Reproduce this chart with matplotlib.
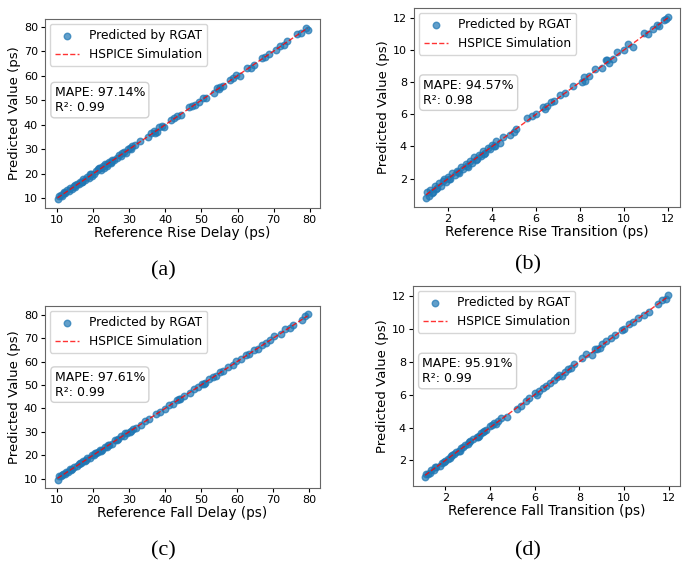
import matplotlib
matplotlib.use("Agg")
import matplotlib.pyplot as plt

# --- data (ps) ---
rise_delay_ref = [10.1, 10.5, 11.0, 11.4, 11.9, 12.3, 12.8, 13.2, 13.7, 14.1, 14.6, 15.0, 15.5, 16.0,
                  16.4, 16.9, 17.3, 17.8, 18.2, 18.7, 19.1, 19.6, 20.2, 20.8, 21.3, 21.8, 22.2, 22.6,
                  23.0, 23.4, 23.9, 24.3, 24.8, 25.3, 25.9, 26.6, 27.2, 27.8, 28.4, 29.0, 29.6, 30.1,
                  30.7, 31.5, 33.0, 35.2, 36.1, 36.9, 37.6, 38.3, 39.0, 39.6, 41.6, 42.5, 43.3, 44.2,
                  46.6, 47.4, 48.3, 49.4, 50.3, 51.2, 53.4, 54.3, 55.2, 56.1, 57.9, 58.8, 59.7, 60.6,
                  62.7, 63.6, 64.6, 66.8, 67.7, 68.7, 70.8, 71.9, 72.8, 73.7, 76.6, 77.6, 78.9, 79.4,
                  12.0, 14.9, 17.0, 19.3, 21.6, 23.7, 25.0, 28.0, 30.4, 37.0, 54.8]
rise_delay_pred = [9.5, 10.9, 11.3, 11.0, 12.3, 12.0, 13.2, 12.8, 14.1, 13.7, 15.0, 14.7, 15.9, 15.6,
                   16.8, 16.5, 17.7, 17.4, 18.8, 18.3, 19.7, 19.2, 20.0, 21.2, 21.9, 22.4, 21.7, 23.1,
                   22.5, 23.9, 23.3, 24.7, 24.2, 25.6, 25.4, 26.2, 27.7, 27.4, 28.9, 28.6, 29.9, 30.5,
                   31.2, 31.9, 33.3, 35.0, 36.5, 37.3, 37.2, 38.9, 39.4, 39.2, 41.8, 42.9, 43.5, 43.8,
                   47.0, 47.8, 48.0, 49.1, 50.7, 51.0, 52.9, 54.8, 55.3, 55.7, 58.2, 58.9, 60.2, 59.9,
                   63.1, 63.2, 64.3, 67.1, 67.4, 68.9, 70.6, 72.1, 72.6, 74.2, 76.8, 77.2, 79.6, 78.8,
                   12.5, 15.3, 16.7, 19.8, 22.3, 24.1, 24.6, 28.3, 30.0, 36.6, 54.6]

rise_tran_ref = [1.0, 1.05, 1.12, 1.2, 1.3, 1.4, 1.5, 1.6, 1.7, 1.8, 1.9, 2.0, 2.1, 2.2, 2.3, 2.4,
                 2.5, 2.6, 2.7, 2.8, 2.9, 3.0, 3.1, 3.2, 3.3, 3.4, 3.5, 3.6, 3.7, 3.8, 3.9, 4.0,
                 4.1, 4.2, 4.35, 4.5, 4.8, 5.0, 5.1, 5.6, 5.8, 6.0, 6.3, 6.5, 6.7, 6.8, 7.1, 7.3,
                 7.7, 8.1, 8.2, 8.4, 8.7, 9.0, 9.2, 9.3, 9.5, 9.7, 10.0, 10.2, 10.4, 10.9, 11.1,
                 11.3, 11.5, 11.6, 11.8, 11.9, 12.0,
                 1.25, 1.45, 1.75, 2.05, 2.45, 2.85, 3.25, 3.65, 4.15, 6.4, 8.25, 9.25]
rise_tran_pred = [0.8, 1.2, 0.95, 1.3, 1.15, 1.55, 1.4, 1.7, 1.55, 1.95, 1.8, 2.1, 1.95, 2.35, 2.2,
                  2.5, 2.35, 2.75, 2.6, 2.9, 2.75, 3.1, 3.0, 3.35, 3.2, 3.5, 3.4, 3.7, 3.6, 3.9,
                  3.85, 4.1, 4.05, 4.35, 4.2, 4.6, 4.7, 4.9, 5.1, 5.75, 5.9, 6.05, 6.45, 6.5, 6.75,
                  6.8, 7.2, 7.3, 7.75, 8.0, 8.3, 8.4, 8.8, 8.9, 9.4, 9.2, 9.45, 9.85, 10.0, 10.35,
                  10.2, 11.05, 11.0, 11.3, 11.55, 11.5, 11.85, 11.9, 12.05,
                  1.1, 1.35, 1.85, 2.0, 2.4, 2.8, 3.15, 3.55, 4.0, 6.35, 8.1, 9.35]

fall_delay_ref = [10.1, 10.6, 11.1, 11.6, 12.1, 12.6, 13.1, 13.6, 14.2, 14.8, 15.4, 16.0, 16.6, 17.2,
                  17.8, 18.4, 19.0, 19.6, 20.2, 20.8, 21.4, 22.0, 22.6, 23.2, 23.8, 24.4, 25.2, 26.2,
                  27.0, 27.8, 28.6, 29.4, 30.2, 31.0, 32.0, 33.2, 34.4, 35.6, 37.4, 38.6, 40.0, 41.2,
                  42.2, 43.2, 44.2, 45.4, 46.8, 48.0, 49.2, 50.2, 51.2, 52.2, 53.2, 54.2, 55.2, 56.2,
                  57.6, 58.8, 59.8, 61.2, 62.4, 63.4, 64.6, 65.8, 67.0, 68.0, 69.2, 70.4, 72.2, 73.4,
                  74.6, 75.6, 78.2, 79.0, 79.6,
                  11.4, 13.9, 16.3, 18.1, 20.5, 22.3, 24.0, 26.6, 29.0, 30.6, 43.8, 50.8]
fall_delay_pred = [9.5, 10.9, 11.0, 12.0, 11.8, 12.9, 13.0, 13.9, 14.0, 14.9, 15.3, 16.3, 16.5, 17.4,
                   17.6, 18.6, 18.8, 19.9, 20.0, 21.1, 21.2, 22.3, 22.3, 23.5, 23.6, 24.3, 24.9, 26.6,
                   26.8, 28.1, 28.4, 29.7, 30.0, 31.4, 31.7, 33.0, 34.8, 35.4, 37.6, 38.3, 39.8, 41.6,
                   42.1, 43.6, 44.0, 45.2, 46.5, 48.3, 49.0, 50.6, 51.0, 52.5, 53.4, 54.0, 55.6, 56.0,
                   57.9, 58.5, 60.2, 61.0, 62.8, 63.2, 64.9, 65.6, 67.3, 67.8, 69.5, 70.8, 72.0, 73.9,
                   74.4, 75.9, 77.8, 79.4, 80.3,
                   11.6, 13.6, 16.5, 17.9, 20.8, 22.0, 24.4, 26.3, 29.3, 30.4, 44.2, 50.5]

fall_tran_ref = [1.1, 1.15, 1.25, 1.35, 1.5, 1.6, 1.75, 1.85, 2.0, 2.1, 2.2, 2.3, 2.4, 2.5, 2.6,
                 2.7, 2.8, 2.9, 3.0, 3.1, 3.25, 3.4, 3.5, 3.6, 3.7, 3.8, 4.0, 4.1, 4.2, 4.35, 4.5,
                 4.75, 5.2, 5.4, 5.6, 5.75, 6.0, 6.2, 6.35, 6.5, 6.7, 6.85, 7.0, 7.2, 7.35, 7.5,
                 7.6, 7.75, 8.1, 8.3, 8.55, 8.7, 8.9, 9.0, 9.2, 9.4, 9.6, 9.9, 10.0, 10.2, 10.4,
                 10.6, 10.9, 11.1, 11.5, 11.7, 11.85, 11.95,
                 1.3, 1.55, 1.95, 2.25, 2.65, 3.05, 3.45, 3.75, 4.25, 6.1, 7.1, 8.8]
fall_tran_pred = [1.0, 1.2, 1.15, 1.4, 1.45, 1.6, 1.65, 1.85, 1.95, 2.1, 2.15, 2.35, 2.4, 2.5, 2.55,
                  2.75, 2.8, 2.95, 3.0, 3.2, 3.3, 3.4, 3.5, 3.65, 3.7, 3.85, 4.1, 4.15, 4.3, 4.4,
                  4.55, 4.65, 5.1, 5.3, 5.6, 5.8, 6.1, 6.2, 6.4, 6.55, 6.7, 6.9, 7.05, 7.15, 7.4,
                  7.55, 7.6, 7.85, 8.2, 8.45, 8.4, 8.8, 8.85, 9.1, 9.25, 9.45, 9.6, 9.95, 10.0,
                  10.3, 10.4, 10.65, 10.85, 11.0, 11.5, 11.75, 11.8, 12.05,
                  1.25, 1.6, 1.9, 2.3, 2.6, 3.1, 3.4, 3.8, 4.2, 6.0, 7.2, 8.75]

x_labels = ["Reference Rise Delay (ps)", "Reference Rise Transition (ps)",
            "Reference Fall Delay (ps)", "Reference Fall Transition (ps)"]
mape = ["97.14%", "94.57%", "97.61%", "95.91%"]
r2 = ["0.99", "0.98", "0.99", "0.99"]
tags = ["(a)", "(b)", "(c)", "(d)"]

W, H = 683, 562
fig = plt.figure(figsize=(W / 100, H / 100), dpi=100)

# pixel boxes (left, top, right, bottom) and caption positions
boxes = [(45, 19, 320, 208), (414, 8, 680, 207), (45, 306, 320, 488), (413, 286, 680, 486)]
tag_pos = [(163, 271), (528, 265), (163, 551), (528, 551)]

series = [(rise_delay_ref, rise_delay_pred), (rise_tran_ref, rise_tran_pred),
          (fall_delay_ref, fall_delay_pred), (fall_tran_ref, fall_tran_pred)]

for i, (xs, ys) in enumerate(series):
    l, t, r, b = boxes[i]
    ax = fig.add_axes([l / W, (H - b) / H, (r - l) / W, (b - t) / H])
    ax.scatter(xs, ys, s=22, alpha=0.7, color="#1f77b4", label="Predicted by RGAT")
    lo, hi = min(xs), max(xs)
    ax.plot([lo, hi], [lo, hi], "r--", lw=1, alpha=0.8, label="HSPICE Simulation")
    ax.set_xlabel(x_labels[i], fontsize=9.8, labelpad=1)
    ax.set_ylabel("Predicted Value (ps)", fontsize=9.5, labelpad=2)
    ax.tick_params(labelsize=8, length=3, pad=2)
    for sp in ax.spines.values():
        sp.set_color("#666666")
    ax.legend(loc="upper left", fontsize=8.8, borderaxespad=0.4)
    ax.text(0.035, 0.645, f"MAPE: {mape[i]}\nR\u00b2: {r2[i]}", transform=ax.transAxes,
            fontsize=9, va="top", ha="left",
            bbox=dict(boxstyle="round", facecolor="white", edgecolor="#cccccc", alpha=0.9))
    tx, ty = tag_pos[i]
    fig.text(tx / W, (H - ty) / H, tags[i], ha="center", va="center",
             fontsize=16, family="Liberation Serif")

fig.savefig("out.png", dpi=100)
